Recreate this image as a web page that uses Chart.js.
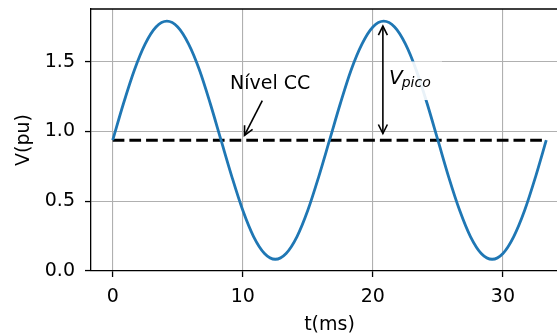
<!DOCTYPE html>
<html>
<head>
<meta charset="utf-8">
<script src="https://cdn.jsdelivr.net/npm/chart.js@4.4.0/dist/chart.umd.min.js"></script>
<style>
  html, body { margin: 0; padding: 0; background: #fff; overflow: hidden; }
  #wrap { width: 600px; height: 335px; }
</style>
</head>
<body>
<div id="wrap"><canvas id="myChart"></canvas></div>
<script>
// values
var T_MS = [0, 0.83, 1.67, 2.5, 3.33, 4.17, 5, 5.83, 6.67, 7.5,
            8.33, 9.17, 10, 10.83, 11.67, 12.5, 13.33, 14.17, 15, 15.83,
            16.67, 17.5, 18.33, 19.17, 20, 20.83, 21.67, 22.5, 23.33, 24.17,
            25, 25.83, 26.67, 27.5, 28.33, 29.17, 30, 30.83, 31.67, 32.5, 33.33];
var V_PU = [0.937, 1.20, 1.44, 1.627, 1.748, 1.79, 1.748, 1.627, 1.44, 1.20,
            0.937, 0.673, 0.435, 0.247, 0.126, 0.084, 0.126, 0.247, 0.435, 0.673,
            0.937, 1.20, 1.44, 1.627, 1.748, 1.79, 1.748, 1.627, 1.44, 1.20,
            0.937, 0.673, 0.435, 0.247, 0.126, 0.084, 0.126, 0.247, 0.435, 0.673, 0.937];
var DC_T = [0, 33.33];
var DC_V = [0.937, 0.937];
var X_TICKS = [0, 10, 20, 30];
var Y_TICKS = [0, 0.5, 1.0, 1.5];

var FONT = 'DejaVu Sans';

function pts(xs, ys) {
  return xs.map(function (x, i) { return { x: x, y: ys[i] }; });
}

function arrowHead(ctx, x0, y0, x1, y1, len, half) {
  var a = Math.atan2(y1 - y0, x1 - x0);
  ctx.beginPath();
  ctx.moveTo(x1 - len * Math.cos(a) + half * Math.sin(a), y1 - len * Math.sin(a) - half * Math.cos(a));
  ctx.lineTo(x1, y1);
  ctx.lineTo(x1 - len * Math.cos(a) - half * Math.sin(a), y1 - len * Math.sin(a) + half * Math.cos(a));
  ctx.stroke();
}

var annotations = {
  id: 'annotations',
  afterDatasetsDraw: function (chart) {
    var ctx = chart.ctx, xs = chart.scales.x, ys = chart.scales.y, a = chart.chartArea;
    ctx.save();

    // top and right spines
    ctx.strokeStyle = '#000';
    ctx.lineWidth = 1.3;
    ctx.beginPath();
    ctx.moveTo(a.left, a.top);
    ctx.lineTo(a.right, a.top);
    ctx.lineTo(a.right, a.bottom);
    ctx.stroke();

    // Nivel CC
    ctx.fillStyle = '#000';
    ctx.font = '19px "' + FONT + '"';
    ctx.textAlign = 'center';
    ctx.textBaseline = 'alphabetic';
    ctx.fillText('Nível CC', xs.getPixelForValue(12.1), ys.getPixelForValue(1.305));
    var tx = xs.getPixelForValue(11.5), ty = ys.getPixelForValue(1.22);
    var hx = xs.getPixelForValue(10.13), hy = ys.getPixelForValue(0.972);
    ctx.lineWidth = 1.6;
    ctx.beginPath();
    ctx.moveTo(tx, ty);
    ctx.lineTo(hx, hy);
    ctx.stroke();
    arrowHead(ctx, tx, ty, hx, hy, 9, 4.5);

    // V_pico box + text
    var vx = xs.getPixelForValue(21.24), vy = ys.getPixelForValue(1.343);
    ctx.fillStyle = 'rgba(255,255,255,0.9)';
    ctx.fillRect(vx - 6, vy - 22, 59, 38.5);
    ctx.fillStyle = '#000';
    ctx.textAlign = 'left';
    ctx.font = 'italic 20px "' + FONT + '"';
    ctx.fillText('V', vx, vy);
    var w = ctx.measureText('V').width;
    ctx.font = 'italic 14px "' + FONT + '"';
    ctx.fillText('pico', vx + w - 1, vy + 3.5);

    // double arrow
    var ax = xs.getPixelForValue(20.77);
    var y0 = ys.getPixelForValue(0.985), y1 = ys.getPixelForValue(1.755);
    ctx.lineWidth = 1.6;
    ctx.beginPath();
    ctx.moveTo(ax, y0);
    ctx.lineTo(ax, y1);
    ctx.stroke();
    arrowHead(ctx, ax, y0, ax, y1, 9, 4.5);
    arrowHead(ctx, ax, y1, ax, y0, 9, 4.5);

    ctx.restore();
  }
};

var ctx = document.getElementById('myChart').getContext('2d');
var myChart = new Chart(ctx, {
  type: 'line',
  data: {
    datasets: [{
      data: pts(T_MS, V_PU),
      borderColor: '#1f77b4',
      borderWidth: 2.8,
      pointRadius: 0,
      cubicInterpolationMode: 'monotone',
      fill: false
    }, {
      data: pts(DC_T, DC_V),
      borderColor: '#000',
      borderWidth: 3,
      borderDash: [11.7, 5],
      pointRadius: 0,
      fill: false
    }]
  },
  options: {
    responsive: true,
    maintainAspectRatio: false,
    animation: false,
    layout: { padding: { left: 0, right: 32, top: 9, bottom: 0 } },
    plugins: { legend: { display: false }, tooltip: { enabled: false } },
    scales: {
      x: {
        type: 'linear',
        min: -1.667,
        max: 35,
        afterBuildTicks: function (s) { s.ticks = X_TICKS.map(function (v) { return { value: v }; }); },
        afterFit: function (s) { s.height = 64; s.paddingLeft = 0; s.paddingRight = 0; },
        ticks: { color: '#000', font: { family: FONT, size: 19 }, padding: 9, maxRotation: 0 },
        grid: { color: '#b0b0b0', lineWidth: 1.1, tickColor: '#000', tickLength: 6, tickWidth: 1.3 },
        border: { color: '#000', width: 1.3 },
        title: { display: true, text: 't(ms)', color: '#000', font: { family: FONT, size: 19 }, padding: { top: 0, bottom: -1 } }
      },
      y: {
        min: 0,
        max: 1.877,
        afterBuildTicks: function (s) { s.ticks = Y_TICKS.map(function (v) { return { value: v }; }); },
        afterFit: function (s) { s.width = 91; s.paddingTop = 0; s.paddingBottom = 0; },
        ticks: { color: '#000', font: { family: FONT, size: 19 }, padding: 10,
                 callback: function (v) { return v.toFixed(1); } },
        grid: { color: '#b0b0b0', lineWidth: 1.1, tickColor: '#000', tickLength: 6, tickWidth: 1.3 },
        border: { color: '#000', width: 1.3 },
        title: { display: true, text: 'V(pu)', color: '#000', font: { family: FONT, size: 19 }, padding: { top: 13, bottom: 0 } }
      }
    }
  },
  plugins: [annotations]
});
</script>
</body>
</html>
